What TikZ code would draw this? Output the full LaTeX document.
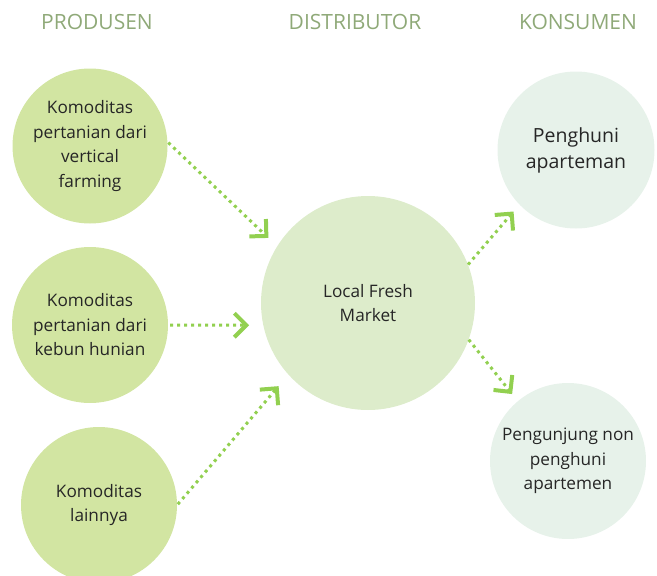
\documentclass[tikz,border=0pt]{standalone}
\usepackage{fontspec}
\setmainfont{Open Sans}
\usetikzlibrary{arrows.meta}
\definecolor{prodgreen}{HTML}{D2E5A2}
\definecolor{distgreen}{HTML}{DDECCB}
\definecolor{konsgreen}{HTML}{E7F2EA}
\definecolor{arrowgreen}{HTML}{92D050}
\definecolor{headgreen}{HTML}{8FA978}
\definecolor{textgray}{HTML}{262626}

\begin{document}
\begin{tikzpicture}[x=1pt,y=-1pt,
    bubble/.style={circle, inner sep=0pt, align=center, text=textgray,
        font=\fontsize{17.2}{24.5}\selectfont},
    header/.style={text=headgreen, font=\fontsize{21}{25}\selectfont},
    flow/.style={arrowgreen, line width=3pt, dash pattern=on 3pt off 4pt,
        -{Straight Barb[length=12pt,width=24pt,line width=4pt]}}]

    \clip (0,0) rectangle (657,576);

    % Column headers
    \node[header] (hprod) at (97,22) {PRODUSEN};
    \node[header] (hdist) at (355,22) {DISTRIBUTOR};
    \node[header] (hkons) at (578,22) {KONSUMEN};

    % Produsen
    \node[bubble, fill=prodgreen, minimum size=155pt] (prod1) at (90,146)
        {Komoditas\\pertanian dari\\vertical\\farming};
    \node[bubble, fill=prodgreen, minimum size=156pt] (prod2) at (90,325)
        {Komoditas\\pertanian dari\\kebun hunian};
    \node[bubble, fill=prodgreen, minimum size=156pt] (prod3) at (99,505)
        {Komoditas\\lainnya};

    % Distributor
    \node[bubble, fill=distgreen, minimum size=214pt] (dist) at (368,303)
        {Local Fresh\\Market};

    % Konsumen
    \node[bubble, fill=konsgreen, minimum size=157pt,
        font=\fontsize{19.5}{26}\selectfont] (kons1) at (576,150)
        {Penghuni\\aparteman};
    \node[bubble, fill=konsgreen, minimum size=156pt] (kons2) at (568,461)
        {Pengunjung non\\penghuni\\apartemen};

    % Flows
    \draw[flow, shorten <=1pt, shorten >=12pt] (prod1.3) -- (dist.148);
    \draw[flow, shorten <=2pt, shorten >=14pt] (prod2.0) -- (dist.192);
    \draw[flow, shorten <=1pt, shorten >=15pt] (prod3.0) -- (dist.222);
    \draw[flow, shorten >=9pt] (dist.21) -- (kons1.224);
    \draw[flow, shorten >=9pt] (dist.-20) -- (kons2.130);
\end{tikzpicture}
\end{document}
